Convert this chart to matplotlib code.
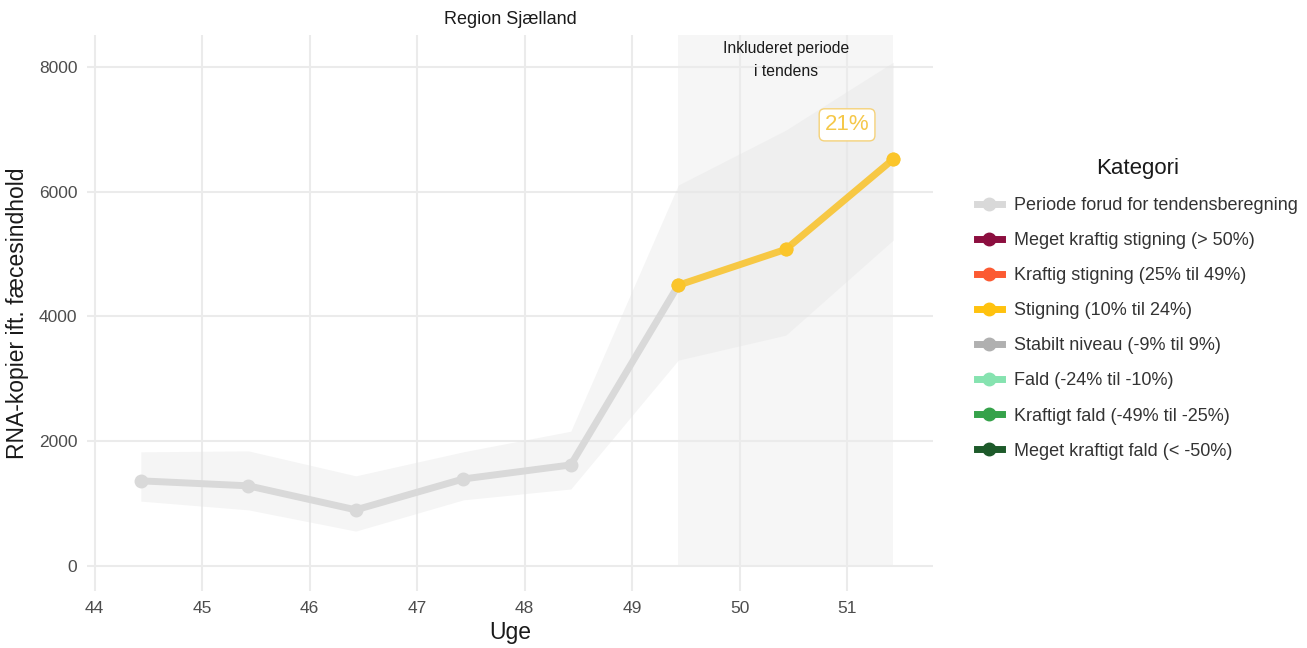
import matplotlib.pyplot as plt
from matplotlib.lines import Line2D
from matplotlib.patches import Rectangle

plt.rcParams['font.family'] = ['Liberation Sans', 'DejaVu Sans']

# data
uge = [44.43, 45.43, 46.43, 47.43, 48.43, 49.43, 50.43, 51.43]
rna = [1365, 1285, 900, 1395, 1620, 4500, 5075, 6520]
lower = [1040, 900, 560, 1060, 1235, 3300, 3700, 5225]
upper = [1830, 1845, 1445, 1830, 2160, 6105, 6985, 8075]
n_pre = 6  # first six points are "Periode forud for tendensberegning"

kategorier = ['Periode forud for tendensberegning', 'Meget kraftig stigning (> 50%)',
              'Kraftig stigning (25% til 49%)', 'Stigning (10% til 24%)',
              'Stabilt niveau (-9% til 9%)', 'Fald (-24% til -10%)',
              'Kraftigt fald (-49% til -25%)', 'Meget kraftigt fald (< -50%)']
farver = ['#d9d9d9', '#8c0e3f', '#fc5a32', '#ffc20e', '#b0b0b0',
          '#86e3b0', '#35a24a', '#1d5a2a']
tendens = '21%'

fig = plt.figure(figsize=(13.07, 6.48), dpi=100)
ax = fig.add_axes([0.0666, 0.088, 0.6473, 0.858])

ax.set_xlim(43.93, 51.80)
ax.set_ylim(-400, 8510)

# included period
ax.add_patch(Rectangle((uge[5], 0), uge[-1] - uge[5], 8510,
                       facecolor='#ececec', alpha=0.45, edgecolor='none', zorder=1))
ax.fill_between(uge, lower, upper, color='#e3e3e3', alpha=0.35, lw=0, zorder=2)

ax.plot(uge[:n_pre], rna[:n_pre], color=farver[0], lw=5, marker='o', ms=9,
        solid_capstyle='round', zorder=3)
ax.plot(uge[n_pre - 1:], rna[n_pre - 1:], color='#f7c844', lw=5, marker='o', ms=9,
        solid_capstyle='round', zorder=4)
ax.plot(uge[n_pre - 1:], rna[n_pre - 1:], 'o', color='#fbc52a', ms=9, zorder=5)

ax.text(uge[6], 8300, 'Inkluderet periode', ha='center', va='center', fontsize=11.3, color='#1a1a1a')
ax.text(uge[6], 7920, 'i tendens', ha='center', va='center', fontsize=11.3, color='#1a1a1a')
ax.text(51.0, 7070, tendens, ha='center', va='center', fontsize=16, color='#f5c84a',
        bbox=dict(boxstyle='round,pad=0.25', fc='white', ec='#f5d27a', lw=1), zorder=6)

ax.set_xticks(range(44, 52))
ax.set_yticks([0, 2000, 4000, 6000, 8000])
ax.grid(True, color='#ebebeb', lw=1.5, zorder=0)
ax.set_axisbelow(True)
for s in ax.spines.values():
    s.set_visible(False)
ax.tick_params(axis='both', length=0, labelsize=12.5, labelcolor='#4d4d4d', pad=7)
ax.set_xlabel('Uge', fontsize=16.5, color='#1a1a1a', labelpad=4)
ax.set_ylabel('RNA-kopier ift. fæcesindhold', fontsize=16.5, color='#1a1a1a', labelpad=7)
ax.set_title('Region Sjælland', fontsize=13, color='#1a1a1a', pad=8)

handles = [Line2D([0], [0], color=c, lw=5, marker='o', ms=9) for c in farver]
leg = fig.legend(handles, kategorier, title='Kategori', loc='upper left',
                 bbox_to_anchor=(0.7353, 0.781), frameon=False, fontsize=13,
                 title_fontsize=16, handlelength=1.35, labelspacing=1.0,
                 handletextpad=0.7)
for t in leg.get_texts():
    t.set_color('#333333')
leg.get_title().set_color('#1a1a1a')

fig.savefig('out.png', dpi=100)
